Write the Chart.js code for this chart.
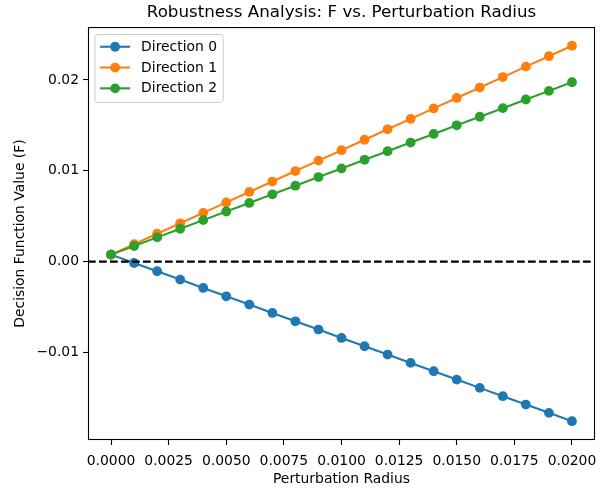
<!DOCTYPE html>
<html>
<head>
<meta charset="utf-8">
<script src="https://cdn.jsdelivr.net/npm/chart.js@4/dist/chart.umd.min.js"></script>
<style>
  html, body { margin: 0; padding: 0; background: #fff; }
  #wrap { width: 611px; height: 488px; }
</style>
</head>
<body>
<div id="wrap"><canvas id="c" width="611" height="488"></canvas></div>
<script>
// Perturbation radii (x) and decision function values per direction
const radius = [0.000, 0.001, 0.002, 0.003, 0.004, 0.005, 0.006, 0.007, 0.008, 0.009, 0.010,
                0.011, 0.012, 0.013, 0.014, 0.015, 0.016, 0.017, 0.018, 0.019, 0.020];
const direction0 = [0.00077, -0.00015, -0.00106, -0.00198, -0.00290, -0.00382, -0.00473, -0.00565,
                    -0.00657, -0.00748, -0.00840, -0.00932, -0.01023, -0.01115, -0.01207, -0.01299,
                    -0.01390, -0.01482, -0.01574, -0.01665, -0.01757];
const direction1 = [0.00077, 0.00192, 0.00307, 0.00422, 0.00537, 0.00652, 0.00767, 0.00882,
                    0.00997, 0.01112, 0.01227, 0.01342, 0.01457, 0.01572, 0.01687, 0.01802,
                    0.01917, 0.02032, 0.02147, 0.02262, 0.02377];
const direction2 = [0.00077, 0.00172, 0.00267, 0.00362, 0.00457, 0.00552, 0.00646, 0.00741,
                    0.00836, 0.00931, 0.01026, 0.01121, 0.01216, 0.01311, 0.01406, 0.01501,
                    0.01595, 0.01690, 0.01785, 0.01880, 0.01975];
const seriesNames = ['Direction 0', 'Direction 1', 'Direction 2'];
const seriesColors = ['#1f77b4', '#ff7f0e', '#2ca02c'];
const xTicks = [0, 0.0025, 0.005, 0.0075, 0.01, 0.0125, 0.015, 0.0175, 0.02];
const yTicks = [-0.01, 0, 0.01, 0.02];

const FONT = 'DejaVu Sans';
Chart.defaults.font.family = FONT;
Chart.defaults.color = '#000';

const MARKER_R = 4.9;
const allSeries = [direction0, direction1, direction2];
const datasets = allSeries.map((vals, i) => ({
  label: seriesNames[i],
  data: radius.map((r, k) => ({ x: r, y: vals[k] })),
  borderColor: seriesColors[i],
  backgroundColor: seriesColors[i],
  borderWidth: 2.1,
  pointRadius: MARKER_R,
  pointHoverRadius: MARKER_R,
  pointBorderWidth: 0,
  tension: 0,
  order: allSeries.length - i   // later series drawn on top
}));

// dashed horizontal reference at F = 0, axes frame and in-plot legend
const overlay = {
  id: 'overlay',
  afterDatasetsDraw(chart) {
    const ctx = chart.ctx, a = chart.chartArea, y = chart.scales.y;
    const py = y.getPixelForValue(0);
    ctx.save();
    ctx.strokeStyle = '#000';
    ctx.lineWidth = 2.1;
    ctx.setLineDash([7.7, 3.3]);
    ctx.beginPath();
    ctx.moveTo(a.left, py);
    ctx.lineTo(a.right, py);
    ctx.stroke();
    ctx.setLineDash([]);

    // frame
    ctx.lineWidth = 1.1;
    ctx.strokeStyle = '#000';
    ctx.strokeRect(a.left + 0.5, a.top + 0.5, a.right - a.left - 1, a.bottom - a.top - 1);

    // legend
    const fs = 13.9;
    const lx = a.left + 6.5, ly = a.top + 7;
    const rowH = 20.8;
    const pad = 5.6, handleLen = 30, gap = 11;
    ctx.font = fs + 'px "' + FONT + '"';
    let maxW = 0;
    chart.data.datasets.forEach(d => { maxW = Math.max(maxW, ctx.measureText(d.label).width); });
    const w = pad + handleLen + gap + maxW + pad;
    const h = 68;
    ctx.beginPath();
    ctx.roundRect(lx + 0.5, ly + 0.5, w, h, 3);
    ctx.fillStyle = 'rgba(255,255,255,0.8)';
    ctx.fill();
    ctx.strokeStyle = '#cccccc';
    ctx.lineWidth = 1;
    ctx.stroke();
    chart.data.datasets.forEach((d, i) => {
      const cy = ly + 12.7 + i * rowH;
      const hx0 = lx + pad, hx1 = hx0 + handleLen;
      ctx.strokeStyle = d.borderColor;
      ctx.lineWidth = 2.1;
      ctx.beginPath();
      ctx.moveTo(hx0, cy);
      ctx.lineTo(hx1, cy);
      ctx.stroke();
      ctx.fillStyle = d.backgroundColor;
      ctx.beginPath();
      ctx.arc((hx0 + hx1) / 2, cy, MARKER_R, 0, Math.PI * 2);
      ctx.fill();
      ctx.fillStyle = '#000';
      ctx.textBaseline = 'middle';
      ctx.textAlign = 'left';
      ctx.fillText(d.label, hx1 + gap, cy + 0.5);
    });
    ctx.restore();
  }
};

new Chart(document.getElementById('c'), {
  type: 'line',
  data: { datasets },
  options: {
    responsive: false,
    animation: false,
    devicePixelRatio: 1,
    layout: { padding: { left: 0, right: 16, top: 0, bottom: 0 } },
    plugins: {
      legend: { display: false },
      tooltip: { enabled: false },
      title: {
        display: true,
        fullSize: false,
        text: 'Robustness Analysis: F vs. Perturbation Radius',
        font: { family: FONT, size: 16.7, weight: 'normal' },
        color: '#000',
        padding: { top: 3, bottom: 4 }
      }
    },
    scales: {
      x: {
        type: 'linear',
        min: -0.001,
        max: 0.021,
        grid: { drawOnChartArea: false, drawTicks: true, tickLength: 5, color: '#000', tickWidth: 1.1 },
        border: { display: false },
        ticks: {
          font: { family: FONT, size: 13.9 },
          color: '#000',
          padding: 8,
          maxRotation: 0,
          autoSkip: false,
          callback: v => v.toFixed(4)
        },
        title: {
          display: true,
          text: 'Perturbation Radius',
          font: { family: FONT, size: 13.9 },
          color: '#000',
          padding: { top: 0, bottom: 0 }
        },
        afterBuildTicks: s => { s.ticks = xTicks.map(v => ({ value: v })); },
        afterFit: s => { s.height = 48; s.paddingLeft = 0; s.paddingRight = 0; }
      },
      y: {
        type: 'linear',
        min: -0.01964,
        max: 0.02583,
        grid: { drawOnChartArea: false, drawTicks: true, tickLength: 5, color: '#000', tickWidth: 1.1 },
        border: { display: false },
        ticks: {
          font: { family: FONT, size: 13.9 },
          color: '#000',
          padding: 4,
          autoSkip: false,
          callback: v => (v < 0 ? '\u2212' : '') + Math.abs(v).toFixed(2)
        },
        title: {
          display: true,
          text: 'Decision Function Value (F)',
          font: { family: FONT, size: 13.9 },
          color: '#000',
          padding: { top: 12, bottom: 4 }
        },
        afterBuildTicks: s => { s.ticks = yTicks.map(v => ({ value: v })); },
        afterFit: s => { s.width = 88; s.paddingTop = 0; s.paddingBottom = 0; }
      }
    }
  },
  plugins: [overlay]
});
</script>
</body>
</html>
